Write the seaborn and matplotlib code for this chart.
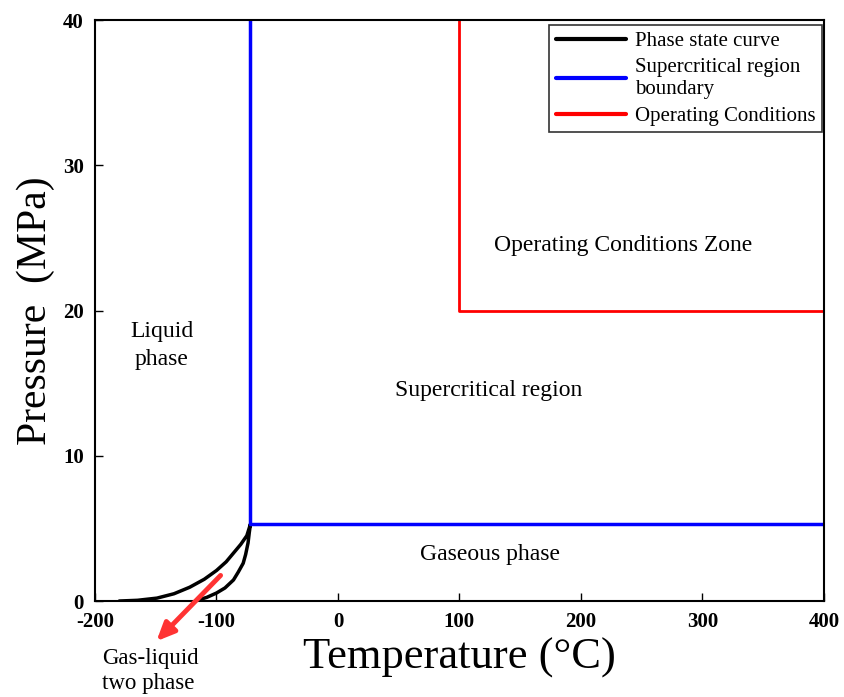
import matplotlib
matplotlib.use("Agg")
import matplotlib.pyplot as plt
import seaborn as sns
import pandas as pd

sns.set_theme(style="white")
plt.rcParams['font.family'] = ['Liberation Serif', 'DejaVu Serif']
plt.rcParams['axes.unicode_minus'] = False
plt.rcParams['text.color'] = 'black'
plt.rcParams['axes.labelcolor'] = 'black'

# Phase envelope (upper = bubble-side, lower = dew-side)
upper_T = [-180, -165, -149, -135, -122, -110, -100, -92, -86, -80, -75, -72]
upper_P = [0.0, 0.05, 0.2, 0.5, 0.95, 1.5, 2.1, 2.7, 3.3, 3.9, 4.5, 5.3]
lower_T = [-72, -73, -74, -76, -78, -82, -86, -93, -100, -108, -116]
lower_P = [5.3, 4.7, 4.0, 3.2, 2.6, 2.0, 1.45, 0.9, 0.55, 0.25, 0.05]

# Supercritical region boundary
super_T = [-72, -72, 400]
super_P = [40, 5.3, 5.3]

# Operating conditions
oper_T = [100, 100, 400]
oper_P = [40, 20, 20]

x_ticks = [-200, -100, 0, 100, 200, 300, 400]
y_ticks = [0, 10, 20, 30, 40]

fig = plt.figure(figsize=(8.45, 6.97), dpi=100)
ax = fig.add_axes([0.1124, 0.1377, 0.8626, 0.8336])

phase = pd.DataFrame({"T": upper_T + lower_T, "P": upper_P + lower_P})
sup = pd.DataFrame({"T": super_T, "P": super_P})
op = pd.DataFrame({"T": oper_T, "P": oper_P})

sns.lineplot(data=phase, x="T", y="P", sort=False, estimator=None, color="black", lw=2.5, ax=ax, label="Phase state curve")
sns.lineplot(data=sup, x="T", y="P", sort=False, estimator=None, color="#0000ff", lw=2.5, ax=ax, label="Supercritical region\nboundary")
sns.lineplot(data=op, x="T", y="P", sort=False, estimator=None, color="#ff0000", lw=2, ax=ax, label="Operating Conditions")

ax.set_xlim(-200, 400)
ax.set_ylim(0, 40)
ax.set_xticks(x_ticks)
ax.set_yticks(y_ticks)
ax.tick_params(direction="in", length=6, width=1, labelsize=15, colors="black", bottom=True, left=True, pad=8)
for lab in ax.get_xticklabels() + ax.get_yticklabels():
    lab.set_fontweight("bold")
for s in ax.spines.values():
    s.set_color("black")
    s.set_linewidth(1.5)

ax.set_xlabel("Temperature (°C)", fontsize=32, labelpad=4)
ax.set_ylabel("Pressure  (MPa)", fontsize=30, labelpad=6)

leg = ax.legend(loc="upper right", fontsize=15, frameon=True, fancybox=False, edgecolor="black",
                handlelength=3.4, handletextpad=0.4, borderpad=0.3, labelspacing=0.35,
                bbox_to_anchor=(0.997, 0.991), borderaxespad=0)
leg.get_frame().set_linewidth(1.2)
for line in leg.get_lines():
    line.set_linewidth(3)
for t in leg.get_texts():
    t.set_color("black")

ax.text(-145, 17.6, "Liquid\nphase", fontsize=17, ha="center", va="center", linespacing=1.45)
ax.text(124, 14.5, "Supercritical region", fontsize=17, ha="center", va="center")
ax.text(235, 24.5, "Operating Conditions Zone", fontsize=17, ha="center", va="center")
ax.text(125, 3.2, "Gaseous phase", fontsize=17, ha="center", va="center")

ax.annotate("", xy=(-151, -2.9), xytext=(-95, 1.9), xycoords="data", textcoords="data",
            arrowprops=dict(arrowstyle="-|>,head_length=0.9,head_width=0.4", color="#ff3333", lw=3.5),
            annotation_clip=False)
ax.text(-194, -3.2, "Gas-liquid\ntwo phase", fontsize=16.5, ha="left", va="top", clip_on=False, linespacing=1.25)

fig.savefig("out.png", dpi=100)
